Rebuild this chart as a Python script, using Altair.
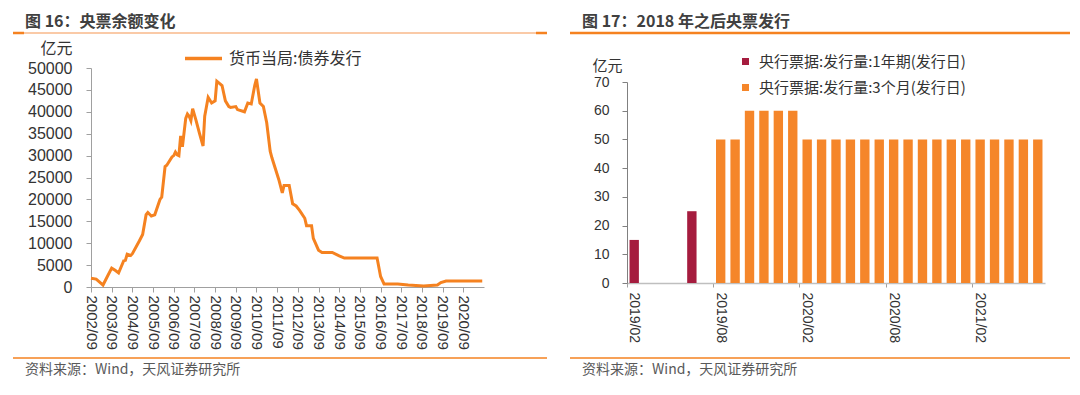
import altair as alt
import pandas as pd

CJK = "Noto Sans CJK SC"
LAT = "Liberation Sans"

title_left = "图 16：央票余额变化"
title_right = "图 17：2018 年之后央票发行"
source_text = "资料来源：Wind，天风证券研究所"
unit = "亿元"

# ---- left panel data ----
series_left = "货币当局:债券发行"
months_left = [
    "2002/09", "2002/12", "2003/02", "2003/04", "2003/06", "2003/09", "2003/11",
    "2004/01", "2004/04", "2004/05", "2004/06", "2004/08", "2004/09", "2005/01",
    "2005/03", "2005/05", "2005/06", "2005/08", "2005/10", "2006/01", "2006/02",
    "2006/04", "2006/05", "2006/08", "2006/09", "2006/10", "2006/11", "2006/12",
    "2007/01", "2007/02", "2007/04", "2007/05", "2007/06", "2007/07", "2007/08",
    "2007/10", "2007/12", "2008/02", "2008/03", "2008/05", "2008/07", "2008/09",
    "2008/10", "2009/01", "2009/03", "2009/05", "2009/06", "2009/09", "2009/10",
    "2010/02", "2010/04", "2010/06", "2010/08", "2010/09", "2010/11", "2011/01",
    "2011/03", "2011/05", "2011/06", "2011/08", "2011/10", "2011/12", "2012/01",
    "2012/04", "2012/06", "2012/08", "2012/10", "2013/01", "2013/02", "2013/05",
    "2013/06", "2013/09", "2013/11", "2014/05", "2014/09", "2014/12", "2016/07",
    "2016/09", "2016/11", "2017/07", "2018/01", "2018/10", "2019/06", "2019/08",
    "2019/11", "2021/08",
]
values_left = [
    2000, 1800, 1100, 450, 2000, 4300, 3800,
    3200, 6000, 6100, 7500, 7200, 7600, 10500,
    12000, 16500, 17000, 16200, 16500, 20000, 20500,
    27500, 27800, 29700, 30000, 30800, 30200, 30000,
    34500, 32000, 38500, 39500, 39000, 38000, 40700,
    38000, 35000, 32200, 39000, 43300, 42000, 42500,
    47000, 46000, 42500, 41200, 41000, 41200, 40500,
    40000, 42000, 41800, 46000, 47500, 42000, 41200,
    37500, 31000, 29500, 27000, 24500, 21500, 23200,
    23200, 19000, 18500, 17500, 15700, 14000, 14000,
    11100, 8400, 7900, 7900, 7100, 6600, 6600,
    2400, 700, 700, 450, 230, 450, 1000,
    1370, 1370,
]
left_tick_years = list(range(2002, 2021))

# ---- right panel data ----
series_1y = "央行票据:发行量:1年期(发行日)"
series_3m = "央行票据:发行量:3个月(发行日)"
months_right = [
    "2019/02", "2019/03", "2019/04", "2019/05", "2019/06", "2019/07", "2019/08",
    "2019/09", "2019/10", "2019/11", "2019/12", "2020/01", "2020/02", "2020/03",
    "2020/04", "2020/05", "2020/06", "2020/07", "2020/08", "2020/09", "2020/10",
    "2020/11", "2020/12", "2021/01", "2021/02", "2021/03", "2021/04", "2021/05",
    "2021/06",
]
months_1y = ["2019/02", "2019/06"]
values_1y = [15, 25]
months_3m = [
    "2019/08", "2019/09", "2019/10", "2019/11", "2019/12", "2020/01", "2020/02",
    "2020/03", "2020/04", "2020/05", "2020/06", "2020/07", "2020/08", "2020/09",
    "2020/10", "2020/11", "2020/12", "2021/01", "2021/02", "2021/03", "2021/04",
    "2021/05", "2021/06",
]
values_3m = [50, 50, 60, 60, 60, 60, 50, 50, 50, 50, 50, 50, 50, 50, 50, 50,
             50, 50, 50, 50, 50, 50, 50]
right_ticks = ["2019/02", "2019/08", "2020/02", "2020/08", "2021/02"]

ORANGE = "#F58220"
BAR_ORANGE = "#F5862A"
BAR_RED = "#A51C3E"
LIGHT_ORANGE = "#F8B98A"


def DT(y, m):
    return alt.DateTime(year=y, month=m, date=1)


def one(text):
    return pd.DataFrame({"t": [text]})


def rule(x1, x2, y, color, w):
    return alt.Chart(one("")).mark_rule(color=color, strokeWidth=w).encode(
        x=alt.value(x1), x2=alt.value(x2), y=alt.value(y))


def text(t, x, y, size, weight="normal", color="#404040"):
    return alt.Chart(one(t)).mark_text(
        align="left", baseline="middle", font=CJK, fontSize=size,
        fontWeight=weight, color=color).encode(
        x=alt.value(x), y=alt.value(y), text="t:N")


# ---------------- left panel ----------------
df_left = pd.DataFrame({
    "date": pd.to_datetime([m + "/01" for m in months_left], format="%Y/%m/%d"),
    "value": values_left,
    "series": series_left,
})

line = alt.Chart(df_left).mark_line(strokeWidth=3, clip=False).encode(
    x=alt.X("date:T",
            scale=alt.Scale(domain=[DT(2002, 9), DT(2021, 9)]),
            axis=alt.Axis(values=[DT(y, 9) for y in left_tick_years],
                          format="%Y/%m", labelAngle=90, title=None, grid=False,
                          labelFont=LAT, labelFontSize=15, labelColor="#333333",
                          tickSize=5, labelPadding=3, domainColor="#A0A0A0",
                          tickColor="#A0A0A0", labelOverlap=False, labelBound=False,
                          labelFlush=False)),
    y=alt.Y("value:Q",
            scale=alt.Scale(domain=[0, 50000], nice=False),
            axis=alt.Axis(values=list(range(0, 50001, 5000)), grid=False,
                          labelFont=LAT, labelFontSize=16, labelColor="#333333",
                          tickSize=5, labelPadding=14, domainColor="#A0A0A0",
                          tickColor="#A0A0A0", format="d",
                          title=unit, titleAngle=0, titleAlign="right",
                          titleBaseline="middle", titleX=-19, titleY=-20,
                          titleFont=CJK, titleFontSize=16, titleFontWeight="normal",
                          titleColor="#333333")),
    color=alt.Color("series:N",
                    scale=alt.Scale(domain=[series_left], range=[ORANGE]),
                    legend=alt.Legend(orient="none", legendX=92, legendY=-30,
                                      title=None, symbolType="stroke",
                                      symbolSize=1369, symbolStrokeWidth=3.5,
                                      labelFont=CJK, labelFontSize=16,
                                      labelColor="#333333", labelOffset=5,
                                      labelLimit=0, padding=0)),
)

left = alt.layer(
    rule(-82.5, -80, -59.5, "white", 1),
    text(title_left, -66, -46, 16, "bold"),
    rule(-78, 456, -35, LIGHT_ORANGE, 1.5),
    rule(-78, -67, -35, ORANGE, 2.5),
    rule(445, 456, -35, ORANGE, 2.5),
    line,
    rule(-78, 456, 290, ORANGE, 1.5),
    text(source_text, -66, 302, 14, color="#595959"),
).properties(width=393, height=219)

# ---------------- right panel ----------------
df_right = pd.DataFrame({
    "month": months_1y + months_3m,
    "value": values_1y + values_3m,
    "series": [series_1y] * len(months_1y) + [series_3m] * len(months_3m),
})

bars = alt.Chart(df_right).mark_bar(width=alt.RelativeBandSize(0.65)).encode(
    x=alt.X("month:O",
            scale=alt.Scale(domain=months_right, paddingInner=0, paddingOuter=0),
            axis=alt.Axis(values=right_ticks, labelAngle=90, bandPosition=0,
                          title=None, grid=False, labelFont=LAT, labelFontSize=14,
                          labelColor="#333333", tickSize=4, labelPadding=5,
                          domainColor="#BFBFBF", domainWidth=1.5,
                          tickColor="#A0A0A0")),
    y=alt.Y("value:Q",
            scale=alt.Scale(domain=[0, 70], range=[215, 14], nice=False),
            axis=alt.Axis(values=list(range(0, 71, 10)), grid=False,
                          labelFont=LAT, labelFontSize=14, labelColor="#333333",
                          tickSize=5, labelPadding=13, domainColor="#808080",
                          tickColor="#808080",
                          title=unit, titleAngle=0, titleAlign="right",
                          titleBaseline="middle", titleX=-5, titleY=-3,
                          titleFont=CJK, titleFontSize=15, titleFontWeight="normal",
                          titleColor="#333333")),
    color=alt.Color("series:N",
                    scale=alt.Scale(domain=[series_1y, series_3m],
                                    range=[BAR_RED, BAR_ORANGE]),
                    legend=alt.Legend(orient="none", legendX=111, legendY=-14,
                                      title=None, symbolType="square",
                                      symbolSize=49, symbolStrokeWidth=0,
                                      labelFont=CJK, labelFontSize=15,
                                      labelColor="#333333", labelOffset=6,
                                      labelLimit=0, rowPadding=10, padding=0)),
)

right = alt.layer(
    text(title_right, -45, -46, 16, "bold"),
    rule(-57, 443, -35, ORANGE, 2.5),
    bars,
    rule(-57, 443, 290, ORANGE, 1.5),
    text(source_text, -45, 302, 14, color="#595959"),
).properties(width=418, height=215)

chart = alt.hconcat(left, right, spacing=143, bounds="flush").resolve_scale(
    color="independent").properties(padding=0).configure_view(stroke=None)

chart.save("out.html", embed_options={"renderer": "svg", "actions": False})
